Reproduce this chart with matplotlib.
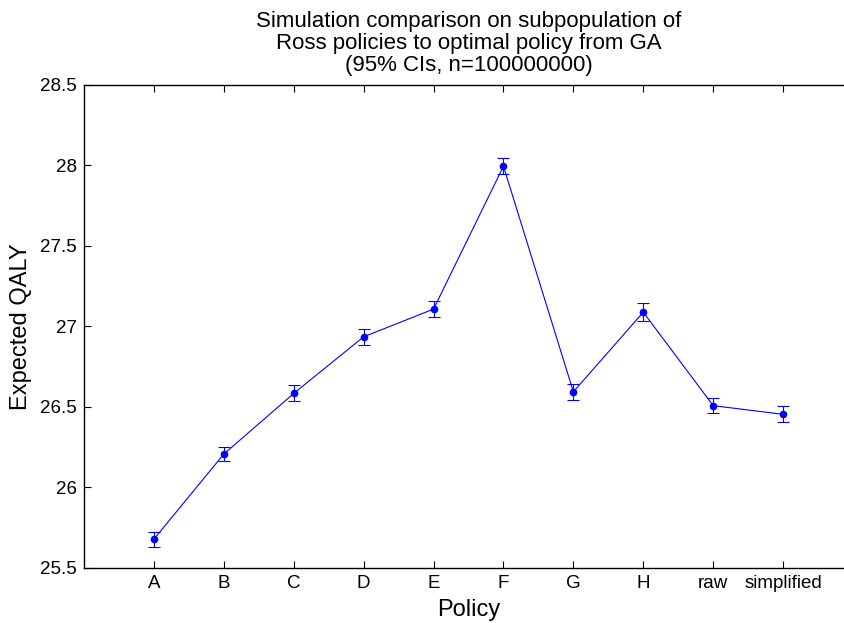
import numpy as np
import matplotlib
matplotlib.use("Agg")
import matplotlib.pyplot as plt

plt.rcParams['font.family'] = ['Liberation Sans', 'DejaVu Sans']

policies = ['A', 'B', 'C', 'D', 'E', 'F', 'G', 'H', 'raw', 'simplified']
qaly = [25.677, 26.206, 26.583, 26.935, 27.107, 27.995, 26.593, 27.088, 26.507, 26.453]
ci = [0.046, 0.046, 0.050, 0.048, 0.050, 0.050, 0.048, 0.054, 0.048, 0.050]

fig = plt.figure(figsize=(8.44, 6.23), dpi=100)
ax = fig.add_axes([0.0995, 0.0888, 0.9112, 0.7748])

x = np.arange(1, len(policies) + 1)
ax.errorbar(x, qaly, yerr=ci, color='#0000ff', lw=0.8, marker='o', ms=4.5,
            capsize=4.5, capthick=0.8, elinewidth=0.8)

ax.set_xlim(0, 11)
ax.set_ylim(25.5, 28.5)
ax.set_xticks(x)
ax.set_xticklabels(policies)
ax.set_yticks(np.arange(25.5, 28.51, 0.5))
ax.set_yticklabels(['25.5', '26', '26.5', '27', '27.5', '28', '28.5'])
ax.tick_params(direction='in', length=5, width=0.8, labelsize=13.5,
               top=True, right=True, pad=5)
for s in ax.spines.values():
    s.set_linewidth(1.0)

ax.set_xlabel('Policy', fontsize=17, labelpad=5)
ax.set_ylabel('Expected QALY', fontsize=17, labelpad=6)
ax.set_title('Simulation comparison on subpopulation of\n'
             'Ross policies to optimal policy from GA\n'
             '(95% CIs, n=100000000)', fontsize=16, linespacing=1.08, pad=10)

fig.savefig('out.png', dpi=100)
